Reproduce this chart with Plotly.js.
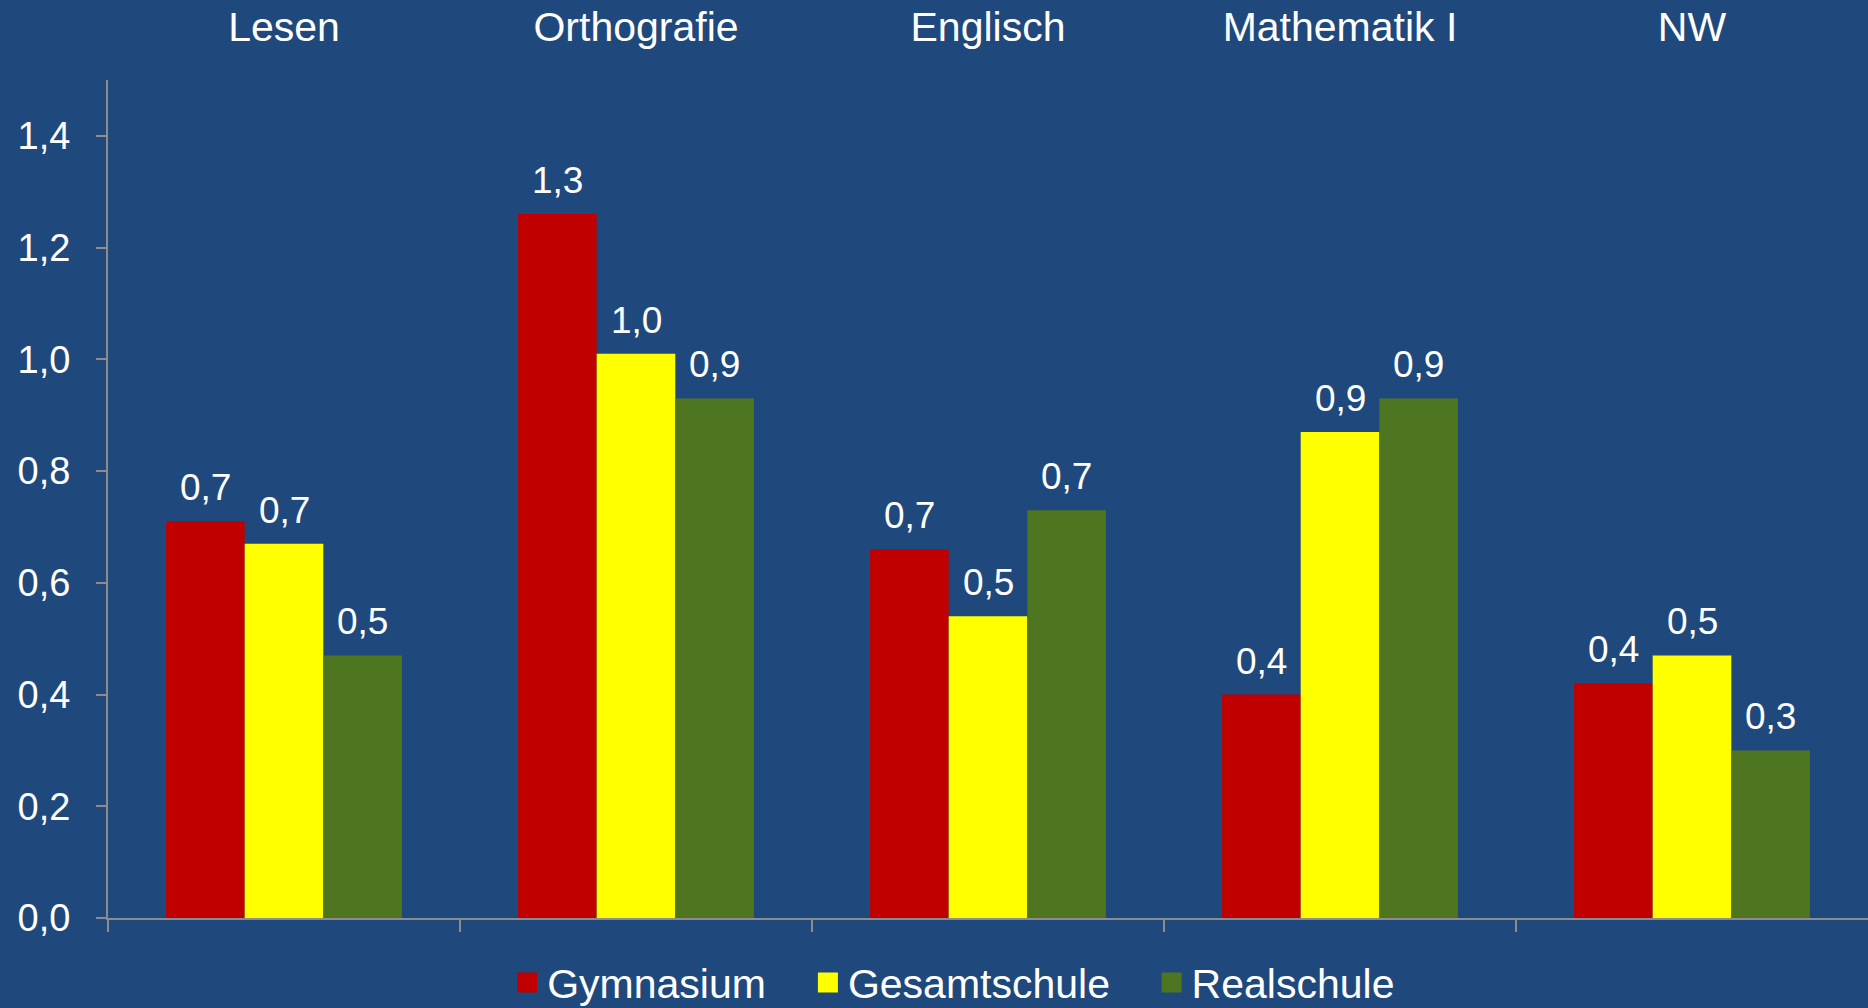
<!DOCTYPE html>
<html>
<head>
<meta charset="utf-8">
<script src="https://cdn.plot.ly/plotly-3.0.1.min.js"></script>
<style>
  html, body { margin: 0; padding: 0; background: #1F497D; }
  #chart { width: 1868px; height: 1008px; }
</style>
</head>
<body>
<div id="chart"></div>
<script>
// Fächer
const faecher = ['Lesen', 'Orthografie', 'Englisch', 'Mathematik I', 'NW'];

// Werte je Schulform
const gymnasium    = [0.71, 1.26, 0.66, 0.40, 0.42];
const gesamtschule = [0.67, 1.01, 0.54, 0.87, 0.47];
const realschule   = [0.47, 0.93, 0.73, 0.93, 0.30];

const schulformen = ['Gymnasium', 'Gesamtschule', 'Realschule'];
const farben = ['#C00000', '#FFFF00', '#4E7621'];
const reihen = [gymnasium, gesamtschule, realschule];

const xPos = faecher.map((f, i) => i);
const barW = 0.67 / 3;
const schrift = 'Liberation Sans, Arial, sans-serif';

let traces = [];
let annotations = [];

reihen.forEach(function (werte, k) {
    let off = (k - 1.5) * barW;
    traces.push({
        type: 'bar',
        name: schulformen[k],
        x: xPos,
        y: werte,
        width: barW,
        offset: off,
        marker: { color: farben[k], line: { width: 0 } },
        showlegend: false,
        hoverinfo: 'skip'
    });
    werte.forEach(function (v, i) {
        annotations.push({
            x: i + off + barW / 2,
            y: v,
            xref: 'x',
            yref: 'y',
            text: v.toFixed(1).replace('.', ','),
            showarrow: false,
            yanchor: 'bottom',
            yshift: 11,
            font: { family: schrift, size: 37, color: '#FFFFFF' }
        });
    });
});

// Legendeneinträge (quadratische Symbole), je eine eigene Legende
const legPos = [0.2715, 0.4325, 0.6165];
schulformen.forEach(function (name, k) {
    traces.push({
        type: 'scatter',
        mode: 'markers',
        name: name,
        x: [null],
        y: [null],
        marker: { symbol: 'square', size: 16, color: farben[k], line: { width: 4, color: farben[k] } },
        legend: k === 0 ? 'legend' : 'legend' + (k + 1),
        hoverinfo: 'skip'
    });
});

// unsichtbare Spur für die obere Achse mit den Fächernamen
traces.push({
    type: 'scatter',
    mode: 'markers',
    x: xPos,
    y: [0, 0, 0, 0, 0],
    xaxis: 'x2',
    marker: { opacity: 0 },
    showlegend: false,
    hoverinfo: 'skip'
});

const achsenGrau = '#8C8C8C';

function legende(x) {
    return {
        orientation: 'h',
        xref: 'container',
        yref: 'container',
        x: x,
        xanchor: 'left',
        y: 0.025,
        yanchor: 'middle',
        itemsizing: 'trace',
        font: { family: schrift, size: 41, color: '#FFFFFF' },
        bgcolor: 'rgba(0,0,0,0)',
        borderwidth: 0
    };
}

let layout = {
    width: 1868,
    height: 1008,
    paper_bgcolor: '#1F497D',
    plot_bgcolor: '#1F497D',
    separators: ',.',
    font: { family: schrift, color: '#FFFFFF' },
    margin: { l: 108, r: 0, t: 80, b: 90 },
    showlegend: true,
    legend: legende(legPos[0]),
    legend2: legende(legPos[1]),
    legend3: legende(legPos[2]),
    xaxis: {
        range: [-0.5, 4.5],
        tickmode: 'array',
        tickvals: [-0.5, 0.5, 1.5, 2.5, 3.5],
        showticklabels: false,
        ticks: 'outside',
        ticklen: 12,
        tickwidth: 2,
        tickcolor: achsenGrau,
        showline: true,
        linecolor: achsenGrau,
        linewidth: 2,
        showgrid: false,
        zeroline: false,
        fixedrange: true
    },
    xaxis2: {
        overlaying: 'x',
        side: 'top',
        anchor: 'y',
        range: [-0.5, 4.5],
        tickmode: 'array',
        tickvals: xPos,
        ticktext: faecher,
        ticks: '',
        ticklabelstandoff: 30,
        tickfont: { family: schrift, size: 41, color: '#FFFFFF' },
        showline: false,
        showgrid: false,
        zeroline: false
    },
    yaxis: {
        range: [0, 1.5],
        dtick: 0.2,
        tickformat: '.1f',
        ticks: 'outside',
        ticklen: 10,
        tickwidth: 2,
        tickcolor: achsenGrau,
        ticklabelstandoff: 18,
        tickfont: { family: schrift, size: 38, color: '#FFFFFF' },
        showline: true,
        linecolor: achsenGrau,
        linewidth: 2,
        showgrid: false,
        zeroline: false
    },
    annotations: annotations
};

Plotly.newPlot('chart', traces, layout, { displayModeBar: false, staticPlot: true });
</script>
</body>
</html>
